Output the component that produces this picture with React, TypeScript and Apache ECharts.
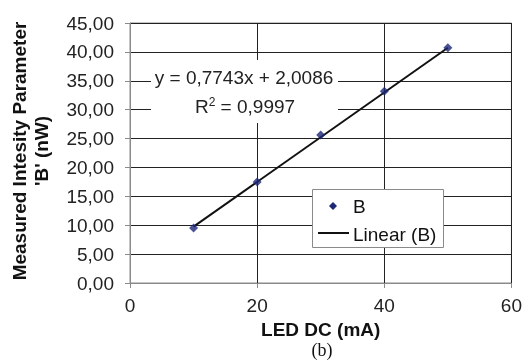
import React, { useEffect, useRef } from "react";
import * as echarts from "echarts";

const xValues = [10, 20, 30, 40, 50];
const bValues = [9.5, 17.5, 25.6, 33.2, 40.7];
const trendX = [10, 50];
const trendY = [9.75, 40.72];
const xTicks = [0, 20, 40, 60];
const equationText = "y = 0,7743x + 2,0086";
const r2Text = "0,9997";
const seriesName = "B";
const trendName = "Linear (B)";

export default function App() {
  const ref = useRef<HTMLDivElement>(null);
  useEffect(() => {
    if (!ref.current) return;
    const chart = echarts.init(ref.current, null, { renderer: "svg" });
    const font = "'Liberation Sans', Arial, sans-serif";
    const fs = 19;
    const markerColor = "#1c2777";
    chart.setOption({
      animation: false,
      grid: {
        left: 130,
        right: 10,
        top: 23,
        bottom: 78,
        show: true,
        borderColor: "#8a8a8a",
        borderWidth: 1,
      },
      xAxis: {
        type: "value",
        min: 0,
        max: 60,
        interval: 20,
        name: "LED DC (mA)",
        nameLocation: "middle",
        nameGap: 36,
        nameTextStyle: { fontFamily: font, fontSize: fs, fontWeight: "bold", color: "#111" },
        axisLine: { show: true, lineStyle: { color: "#8a8a8a" } },
        axisTick: { show: true, length: 5, lineStyle: { color: "#8a8a8a" } },
        axisLabel: {
          fontFamily: font,
          fontSize: fs,
          color: "#222",
          margin: 13,
          formatter: (v: number) => (xTicks.includes(v) ? String(v) : ""),
        },
        splitLine: { show: true, lineStyle: { color: "#222", width: 1 } },
      },
      yAxis: {
        type: "value",
        min: 0,
        max: 45,
        interval: 5,
        axisLine: { show: true, lineStyle: { color: "#8a8a8a" } },
        axisTick: { show: true, length: 5, lineStyle: { color: "#8a8a8a" } },
        axisLabel: {
          fontFamily: font,
          fontSize: fs,
          color: "#222",
          margin: 16,
          formatter: (v: number) => v.toFixed(2).replace(".", ","),
        },
        splitLine: { show: true, lineStyle: { color: "#222", width: 1 } },
      },
      graphic: [
        {
          type: "rect",
          shape: { x: 151, y: 60, width: 187, height: 63 },
          style: { fill: "#fff" },
          z: 10,
        },
        {
          type: "text",
          x: 244,
          y: 77,
          style: {
            text: equationText,
            fontFamily: font,
            fontSize: fs,
            fill: "#222",
            align: "center",
            verticalAlign: "middle",
          },
          z: 11,
        },
        {
          type: "text",
          x: 245,
          y: 106,
          style: {
            text: "R{sup|2} = " + r2Text,
            rich: {
              sup: { fontSize: 12, verticalAlign: "top", padding: [0, 0, 9, 0], fontFamily: font, fill: "#222" },
            },
            fontFamily: font,
            fontSize: fs,
            fill: "#222",
            align: "center",
            verticalAlign: "middle",
          },
          z: 11,
        },
        {
          type: "rect",
          shape: { x: 312.5, y: 189.5, width: 131, height: 58 },
          style: { fill: "#fff", stroke: "#8a8a8a", lineWidth: 1 },
          z: 10,
        },
        {
          type: "polygon",
          shape: { points: [[333, 202], [337, 206], [333, 210], [329, 206]] },
          style: { fill: markerColor },
          z: 11,
        },
        {
          type: "text",
          x: 353,
          y: 206,
          style: { text: seriesName, fontFamily: font, fontSize: fs, fill: "#111", verticalAlign: "middle" },
          z: 11,
        },
        {
          type: "line",
          shape: { x1: 318, y1: 233, x2: 349, y2: 233 },
          style: { stroke: "#111", lineWidth: 2 },
          z: 11,
        },
        {
          type: "text",
          x: 353,
          y: 234,
          style: { text: trendName, fontFamily: font, fontSize: fs, fill: "#111", verticalAlign: "middle" },
          z: 11,
        },
        {
          type: "text",
          x: 30,
          y: 151,
          rotation: Math.PI / 2,
          style: {
            text: "Measured Intesity Parameter\n'B' (nW)",
            fontFamily: font,
            fontSize: fs,
            fontWeight: "bold",
            fill: "#111",
            align: "center",
            verticalAlign: "middle",
            lineHeight: 22,
          },
        },
        {
          type: "text",
          x: 322,
          y: 350,
          style: {
            text: "(b)",
            fontFamily: "'Liberation Serif', 'Times New Roman', serif",
            fontSize: 18,
            fill: "#111",
            align: "center",
            verticalAlign: "middle",
          },
        },
      ],
      series: [
        {
          name: trendName,
          type: "line",
          data: trendX.map((x, i) => [x, trendY[i]]),
          symbol: "none",
          lineStyle: { color: "#111", width: 2 },
          z: 3,
        },
        {
          name: seriesName,
          type: "scatter",
          data: xValues.map((x, i) => [x, bValues[i]]),
          symbol: "diamond",
          symbolSize: 9,
          itemStyle: { color: markerColor },
          z: 4,
        },
      ],
    });
    return () => chart.dispose();
  }, []);
  return <div ref={ref} style={{ position: "fixed", left: 0, top: 0, width: 525, height: 361 }} />;
}
